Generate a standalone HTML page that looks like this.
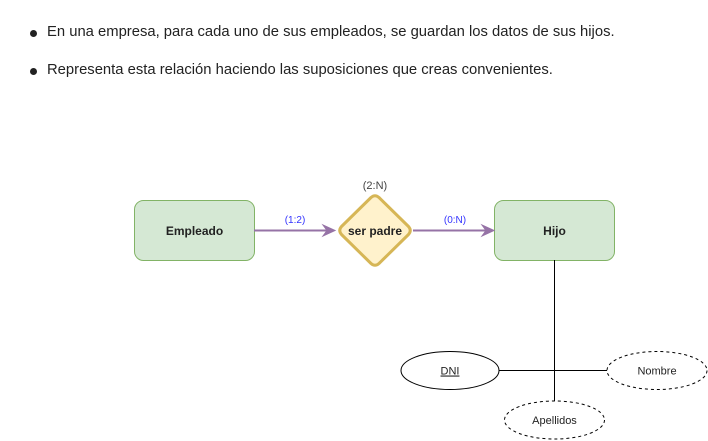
<!DOCTYPE html>
<html><head><meta charset="utf-8"><style>
body{margin:0;width:708px;height:441px;background:#fff;overflow:hidden;font-family:"Liberation Sans",sans-serif;}
.b{position:absolute;left:47px;font-size:14.8px;color:#222;white-space:nowrap}
.d{position:absolute;left:30px;width:7px;height:7px;border-radius:50%;background:#222}
</style></head><body>
<div class="d" style="top:30px"></div><div class="b" style="top:24px">En una empresa, para cada uno de sus empleados, se guardan los datos de sus hijos.</div>
<div class="d" style="top:68px"></div><div class="b" style="top:62px">Representa esta relación haciendo las suposiciones que creas convenientes.</div>
<svg width="708" height="441" style="position:absolute;left:0;top:0" font-family="Liberation Sans, sans-serif">
<rect x="134.5" y="200.5" width="120" height="60" rx="9" fill="#d5e8d4" stroke="#82b366"/>
<text x="194.5" y="235" text-anchor="middle" font-size="12" font-weight="bold" fill="#222">Empleado</text>
<rect x="494.5" y="200.5" width="120" height="60" rx="9" fill="#d5e8d4" stroke="#82b366"/>
<text x="554.5" y="235" text-anchor="middle" font-size="12" font-weight="bold" fill="#222">Hijo</text>
<path d="M371 197.5 Q375 194 379 197.5 L408.5 226.5 Q412 230.5 408.5 234.5 L379 263.5 Q375 267 371 263.5 L341.5 234.5 Q338 230.5 341.5 226.5 Z" fill="#fff2cc" stroke="#d6b656" stroke-width="3" stroke-linejoin="round"/>
<text x="375" y="235" text-anchor="middle" font-size="12" font-weight="bold" fill="#222">ser padre</text>
<text x="375" y="189" text-anchor="middle" font-size="11" fill="#444">(2:N)</text>
<line x1="254" y1="230.5" x2="327" y2="230.5" stroke="#9673a6" stroke-width="2"/>
<path d="M335 230.5 L323 225 L327 230.5 L323 236 Z" fill="#9673a6" stroke="#9673a6"/>
<text x="295" y="223" text-anchor="middle" font-size="10" fill="#3333ff">(1:2)</text>
<line x1="413" y1="230.5" x2="487" y2="230.5" stroke="#9673a6" stroke-width="2"/>
<path d="M494 230.5 L482 225 L486 230.5 L482 236 Z" fill="#9673a6" stroke="#9673a6"/>
<text x="455" y="223" text-anchor="middle" font-size="10" fill="#3333ff">(0:N)</text>
<line x1="554.5" y1="260" x2="554.5" y2="401" stroke="#000"/>
<line x1="499" y1="370.5" x2="607" y2="370.5" stroke="#000"/>
<ellipse cx="450" cy="370.5" rx="49" ry="19" fill="#fff" stroke="#000"/>
<text x="450" y="374.5" text-anchor="middle" font-size="11" fill="#222" text-decoration="underline">DNI</text>
<ellipse cx="657" cy="370.5" rx="50" ry="19" fill="#fff" stroke="#000" stroke-dasharray="3 3"/>
<text x="657" y="374.5" text-anchor="middle" font-size="11" fill="#222">Nombre</text>
<ellipse cx="554.5" cy="420" rx="50" ry="19" fill="#fff" stroke="#000" stroke-dasharray="3 3"/>
<text x="554.5" y="424" text-anchor="middle" font-size="11" fill="#222">Apellidos</text>
</svg>
</body></html>
